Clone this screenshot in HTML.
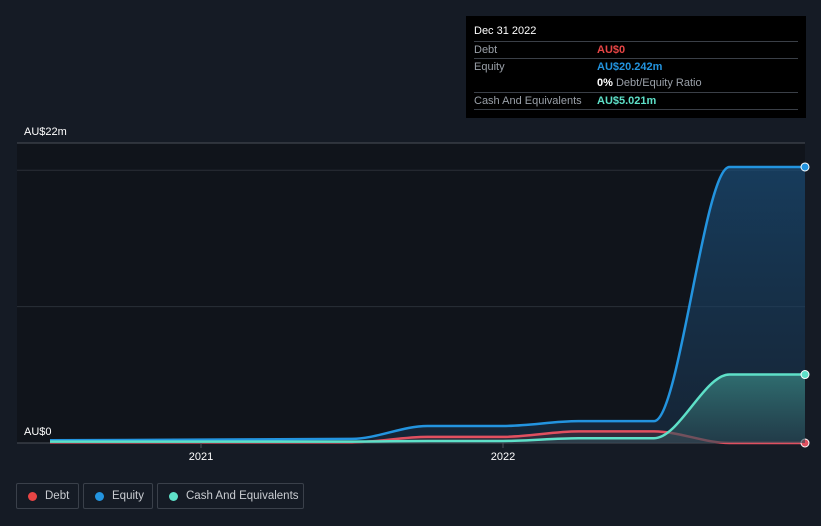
<!DOCTYPE html>
<html><head><meta charset="utf-8"><style>
html,body{margin:0;width:821px;height:526px}
body{background:#151b25;font-family:"Liberation Sans",sans-serif;overflow:hidden;position:relative}
.tt{position:absolute;left:466px;top:16px;width:340px;height:102px;background:#000;color:#fff;font-size:11px}
.tt .r{position:absolute;left:8px;width:324px;border-top:1px solid #3a3f47;height:16px}
.tt span{position:absolute;top:2px;white-space:nowrap}
.leg{position:absolute;top:483px;height:26px;border:1px solid #3a404a;border-radius:2px;color:#c9ccd1;font-size:11.5px;box-sizing:border-box;line-height:25px;white-space:nowrap}
.leg i{position:absolute;left:11px;top:8px;width:9px;height:9px;border-radius:50%}
.leg b{font-weight:normal;position:absolute;left:28px;white-space:nowrap}
</style></head><body>
<svg id="chart" width="821" height="526" style="position:absolute;left:0;top:0">
<defs>
<linearGradient id="ge" x1="0" y1="0" x2="0" y2="1"><stop offset="0" stop-color="#1a4d78" stop-opacity="0.7"/><stop offset="1" stop-color="#1a3550" stop-opacity="0.5"/></linearGradient>
<linearGradient id="gc" x1="0" y1="0" x2="0" y2="1"><stop offset="0" stop-color="#3a8a85" stop-opacity="0.7"/><stop offset="1" stop-color="#2a4a55" stop-opacity="0.6"/></linearGradient>
</defs>
<rect x="17" y="143" width="788" height="300" fill="#10141b"/>
<g id="grid"></g><g id="series"></g><g id="axis"></g>
</svg>
<div class="tt">
<span style="left:8px;top:9px;position:absolute">Dec 31 2022</span>
<div class="r" style="top:25px"><span style="left:0;color:#9aa0a8">Debt</span><span style="left:123px;color:#e84545;font-weight:bold">AU$0</span></div>
<div class="r" style="top:42px"><span style="left:0;color:#9aa0a8">Equity</span><span style="left:123px;color:#2394df;font-weight:bold">AU$20.242m</span></div>
<div class="r" style="top:59px;border-top:none"><span style="left:123px;color:#9aa0a8"><b style="color:#fff">0%</b> Debt/Equity Ratio</span></div>
<div class="r" style="top:76px"><span style="left:0;color:#9aa0a8">Cash And Equivalents</span><span style="left:123px;color:#5ee0c8;font-weight:bold">AU$5.021m</span></div>
<div class="r" style="top:93px"></div>
</div>
<div class="leg" style="left:16px;width:63px"><i style="background:#e84545"></i><b>Debt</b></div>
<div class="leg" style="left:83px;width:70px"><i style="background:#2394df"></i><b>Equity</b></div>
<div class="leg" style="left:157px;width:147px"><i style="background:#5ee0c8"></i><b>Cash And Equivalents</b></div>
<script>
const dates=[2020.5,2021.0,2021.5,2021.75,2022.0,2022.25,2022.5,2022.75,2023.0];
const equity=[0.2,0.25,0.3,1.25,1.25,1.6,1.6,20.242,20.242];
const debt=[0.05,0.05,0.05,0.45,0.45,0.85,0.85,0,0];
const cash=[0.1,0.1,0.1,0.15,0.15,0.35,0.35,5.021,5.021];
const yTicks=[0,10,20,22];
const xTicks=[2021,2022];
const X=t=>201+(t-2021)*302;
const Y=v=>443-v*300/22;
const NS="http://www.w3.org/2000/svg";
function mk(tag,attrs,parent){const e=document.createElementNS(NS,tag);for(const k in attrs)e.setAttribute(k,attrs[k]);parent.appendChild(e);return e;}
const grid=document.getElementById('grid'),ser=document.getElementById('series'),ax=document.getElementById('axis');
yTicks.forEach(v=>{const l=mk('line',{x1:17,x2:805,y1:Y(v),y2:Y(v),stroke:v===22||v===0?'#4a4f58':'#2a2f38','stroke-width':1},grid);

});
[[0,'AU$0'],[22,'AU$22m']].forEach(([v,s])=>{const t=mk('text',{x:24,y:Y(v)-8,fill:'#fff','font-size':11},ax);t.textContent=s;

});
xTicks.forEach(v=>{mk('line',{x1:X(v),x2:X(v),y1:443,y2:448,stroke:'#4a4f58'},ax);const t=mk('text',{x:X(v),y:460,fill:'#fff','font-size':11,'text-anchor':'middle'},ax);t.textContent=v;

});
function path(vals){const xs=dates.map(X),ys=vals.map(Y),n=xs.length;const d=[],m=[];
for(let i=0;i<n-1;i++)d.push((ys[i+1]-ys[i])/(xs[i+1]-xs[i]));
for(let i=0;i<n;i++){if(i===0)m.push(d[0]);else if(i===n-1)m.push(d[n-2]);else if(d[i-1]*d[i]<=0)m.push(0);else{const h0=xs[i]-xs[i-1],h1=xs[i+1]-xs[i];m.push(3*(h0+h1)/((2*h1+h0)/d[i-1]+(h1+2*h0)/d[i]));}}
m[0]=0;m[n-1]=0;
let p='M'+xs[0]+','+ys[0];
for(let i=0;i<n-1;i++){const h=(xs[i+1]-xs[i])/3;p+=` C${xs[i]+h},${ys[i]+m[i]*h} ${xs[i+1]-h},${ys[i+1]-m[i+1]*h} ${xs[i+1]},${ys[i+1]}`;}
return p;}
function series(vals,col,fill,name){const p=path(vals);
const a=mk('path',{d:p+` L${X(dates[dates.length-1])},443 L${X(dates[0])},443 Z`,fill:fill},ser);


const l=mk('path',{d:p,fill:'none',stroke:col,'stroke-width':2.5},ser);


const c=mk('circle',{cx:X(dates[dates.length-1]),cy:Y(vals[vals.length-1]),r:4,fill:col,stroke:'#fff','stroke-width':1},ser);

}
series(equity,'#2394df','url(#ge)','equity');
series(debt,'#e05060','rgba(224,80,96,0.15)','debt');
series(cash,'#5ee0c8','url(#gc)','cash');
</script>
</body></html>
